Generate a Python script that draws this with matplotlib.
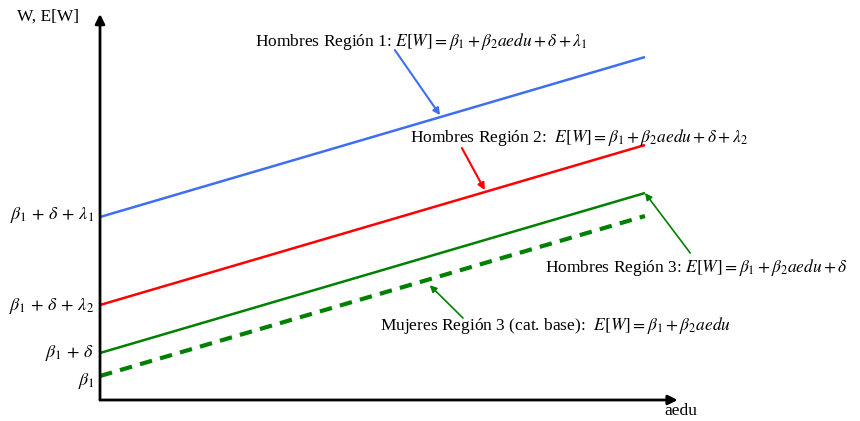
import numpy as np
import matplotlib.pyplot as plt

plt.rcParams['font.family'] = ['Liberation Serif', 'DejaVu Serif']
plt.rcParams['mathtext.fontset'] = 'stix'

# años de educación (eje x) y parámetros del modelo
aedu = np.array([0.0, 10.0])
beta1 = 2.4
beta2 = 1.6
delta = 2.3
lambda1 = 13.6
lambda2 = 4.8

intercepts = [beta1 + delta + lambda1, beta1 + delta + lambda2, beta1 + delta, beta1]
intercept_labels = [r'$\beta_1\,+\,\delta\,+\,\lambda_1$', r'$\beta_1\,+\,\delta\,+\,\lambda_2$',
                    r'$\beta_1\,+\,\delta$', r'$\beta_1$']
label_offsets = [0.2, -0.1, 0.0, -0.5]

w_h1 = beta1 + beta2 * aedu + delta + lambda1
w_h2 = beta1 + beta2 * aedu + delta + lambda2
w_h3 = beta1 + beta2 * aedu + delta
w_m3 = beta1 + beta2 * aedu

fig = plt.figure(figsize=(8.6, 4.21), dpi=100)
ax = fig.add_axes([0, 0, 1, 1])
ax.set_xlim(-1.835, 13.945)
ax.set_ylim(-2.1, 40.0)
ax.axis('off')

# ejes con flechas
ax.annotate('', xy=(10.6, 0), xytext=(0, 0),
            arrowprops=dict(arrowstyle='-|>', color='black', lw=2, mutation_scale=14, shrinkA=0, shrinkB=0))
ax.annotate('', xy=(0, 38.6), xytext=(0, 0),
            arrowprops=dict(arrowstyle='-|>', color='black', lw=2, mutation_scale=14, shrinkA=0, shrinkB=0))
ax.text(-1.52, 38.3, 'W, E[W]', fontsize=12.5, ha='left', va='center')
ax.text(10.65, -1.1, 'aedu', fontsize=12.5, ha='center', va='center')

# rectas
ax.plot(aedu, w_h1, color='#3f6ff0', lw=1.8, solid_capstyle='butt')
ax.plot(aedu, w_h2, color='#ff0000', lw=1.8, solid_capstyle='butt')
ax.plot(aedu, w_h3, color='#008000', lw=1.8, solid_capstyle='butt')
ax.plot(aedu, w_m3, color='#008000', lw=3.0, linestyle=(0, (3, 2)))

# etiquetas de ordenada al origen
for v, lab, off in zip(intercepts, intercept_labels, label_offsets):
    ax.text(-0.1, v + off, lab, fontsize=13, ha='right', va='center')

fs = 12.5
ax.text(2.84, 35.9, r'Hombres Región 1: $E[W] = \beta_1 + \beta_2 aedu + \delta + \lambda_1$',
        fontsize=fs, ha='left', va='center')
ax.annotate('', xy=(6.24, beta1 + beta2 * 6.24 + delta + lambda1 + 0.2), xytext=(5.41, 35.0),
            arrowprops=dict(arrowstyle='-|>', color='#3f6ff0', lw=1.5, mutation_scale=10, shrinkA=0, shrinkB=0))

ax.text(5.69, 26.3, r'Hombres Región 2:  $E[W] = \beta_1 + \beta_2 aedu + \delta + \lambda_2$',
        fontsize=fs, ha='left', va='center')
ax.annotate('', xy=(7.06, beta1 + beta2 * 7.06 + delta + lambda2 + 0.2), xytext=(6.64, 25.2),
            arrowprops=dict(arrowstyle='-|>', color='#ff0000', lw=1.5, mutation_scale=10, shrinkA=0, shrinkB=0))

ax.text(8.17, 13.2, r'Hombres Región 3: $E[W] = \beta_1 + \beta_2 aedu + \delta$',
        fontsize=fs, ha='left', va='center')
ax.annotate('', xy=(10.0, w_h3[-1]), xytext=(10.83, 14.7),
            arrowprops=dict(arrowstyle='-|>', color='#008000', lw=1.2, mutation_scale=10, shrinkA=0, shrinkB=0))

ax.text(5.14, 7.5, r'Mujeres Región 3 (cat. base):  $E[W] = \beta_1 + \beta_2 aedu$',
        fontsize=fs, ha='left', va='center')
ax.annotate('', xy=(6.05, beta1 + beta2 * 6.05 - 0.6), xytext=(6.66, 8.2),
            arrowprops=dict(arrowstyle='-|>', color='#008000', lw=1.2, mutation_scale=10, shrinkA=0, shrinkB=0))

fig.savefig('out.png', dpi=100)
